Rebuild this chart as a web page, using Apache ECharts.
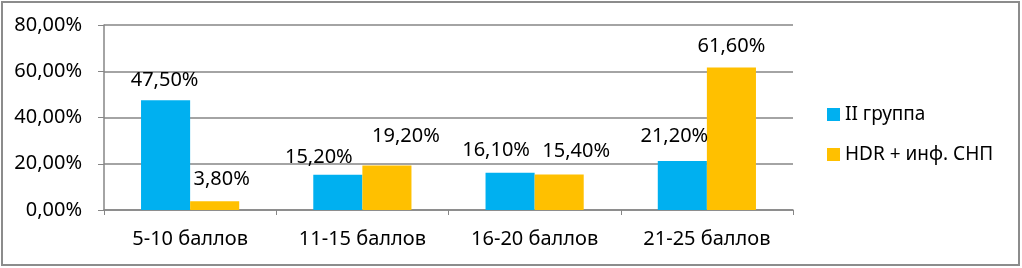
<!DOCTYPE html>
<html>
<head>
<meta charset="utf-8">
<script src="https://cdn.jsdelivr.net/npm/echarts@6/dist/echarts.min.js"></script>
<style>
html, body { margin: 0; padding: 0; background: #fff; }
#chart { width: 1022px; height: 268px; }
</style>
</head>
<body>
<div id="chart"></div>
<script>
var categories = ['5-10 баллов', '11-15 баллов', '16-20 баллов', '21-25 баллов'];
var groupII = [47.5, 15.2, 16.1, 21.2];
var hdrSnp = [3.8, 19.2, 15.4, 61.6];
var seriesNames = ['II группа', 'HDR + инф. СНП'];

function pct(v) {
    return v.toFixed(2).replace('.', ',') + '%';
}

// сдвиг подписей как в исходнике (подписи раздвинуты вручную)
var labelShift = [
    [[-1, 0], [-19, 2], [-14, -2], [-8, -5]],
    [[7, -2], [19, -9], [17, -3], [0, -1]]
];

function makeData(values, s) {
    return values.map(function (v, i) {
        return {value: v, label: {offset: labelShift[s][i]}};
    });
}

var font = 'Noto Sans';
var myChart = echarts.init(document.getElementById('chart'));
var labelStyle = {
    show: true, position: 'top', distance: 10, color: '#000', fontSize: 20, fontFamily: font,
    formatter: function (p) { return pct(p.value); }
};
var option = {
    backgroundColor: '#fff',
    animation: false,
    textStyle: {fontFamily: font},
    graphic: [
        {type: 'rect', shape: {x: 2, y: 2, width: 1017, height: 263},
            style: {fill: 'none', stroke: '#8c8c8c', lineWidth: 2}}
    ],
    grid: {left: 104, right: 229, top: 25, bottom: 58},
    legend: {
        orient: 'vertical', left: 822, top: 100, itemWidth: 13, itemHeight: 13, itemGap: 21,
        icon: 'rect',
        textStyle: {fontFamily: font, fontSize: 19, color: '#000'},
        data: seriesNames
    },
    xAxis: {
        type: 'category', data: categories,
        axisLine: {lineStyle: {color: '#868686', width: 1.5}},
        axisTick: {show: true, length: 5, lineStyle: {color: '#868686'}},
        axisLabel: {color: '#000', fontSize: 20, fontFamily: font, margin: 19}
    },
    yAxis: {
        type: 'value', min: 0, max: 80, interval: 20,
        axisLine: {show: true, lineStyle: {color: '#868686', width: 1.5}},
        axisTick: {show: true, length: 6, lineStyle: {color: '#868686'}},
        splitLine: {lineStyle: {color: '#868686', width: 1.5}},
        axisLabel: {color: '#000', fontSize: 20, fontFamily: font, margin: 22, formatter: pct}
    },
    series: [
        {
            name: seriesNames[0], type: 'bar', data: makeData(groupII, 0), barGap: 0, barCategoryGap: '43%',
            itemStyle: {color: '#00B0F0'},
            label: labelStyle
        },
        {
            name: seriesNames[1], type: 'bar', data: makeData(hdrSnp, 1), barGap: 0, barCategoryGap: '43%',
            itemStyle: {color: '#FFC000'},
            label: labelStyle
        }
    ]
};
myChart.setOption(option);
</script>
</body>
</html>
